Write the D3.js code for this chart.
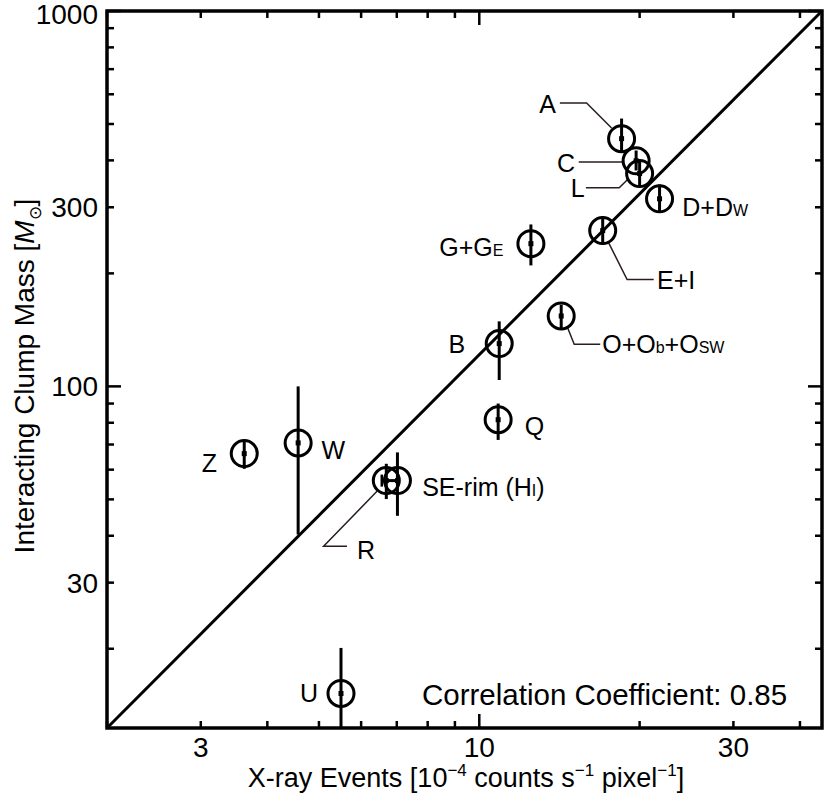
<!DOCTYPE html>
<html lang="en">
  <head>
    <meta charset="UTF-8" />
    <title>Interacting Clump Mass vs X-ray Events</title>
    <script src="https://d3js.org/d3.v7.min.js"></script>
    <style>
      body {
        margin: 0;
        background: white;
      }
      svg text {
        font-family: "Liberation Sans", Arial, Helvetica, sans-serif;
        fill: black;
      }
    </style>
  </head>
  <body>
    <svg id="chart" width="830" height="806"></svg>
    <script>
      // clump data
      const names = ["A", "C", "L", "D", "E", "G", "O", "B", "Q", "Z", "W", "R", "SE", "U"];
      const xray = [18.5, 19.7, 20.0, 21.8, 17.05, 12.5, 14.25, 10.9, 10.85, 3.62, 4.57, 6.69, 7.02, 5.5];
      const mass = [457, 399, 369, 316, 260, 240, 154, 130, 81.5, 66.2, 70.7, 56.1, 56.1, 15.2];
      const massLo = [420, 376, 340, 290, 238, 210, 143, 104, 72, 60.3, 40.3, 50.1, 45.2, 12.3];
      const massHi = [517, 425, 398, 345, 284, 270, 165, 149, 90, 72, 100, 62.2, 66.7, 20.1];
      const xrayLo = [null, null, null, null, null, null, null, null, null, null, null, null, 6.56, null];
      const xrayHi = [null, null, null, null, null, null, null, null, null, null, null, null, 7.02, null];

      const xTickLabels = [3, 10, 30];
      const yTickLabels = [30, 100, 300, 1000];
      const xMinor = [2, 3, 4, 5, 6, 7, 8, 9, 20, 30, 40];
      const yMinor = [20, 30, 40, 50, 60, 70, 80, 90, 200, 300, 400, 500, 600, 700, 800, 900];
      const xMajor = [10];
      const yMajor = [100, 1000];
      const fitLine = [[2, 12.3], [44, 1000]];
      const corrText = "Correlation Coefficient: 0.85";

      // label placement (pixel offsets from the point centre)
      const labels = {
        A: { parts: [["A"]], dx: -74, dy: -35, anchor: "middle", leader: [[-10, -10.7], [-35, -35.7], [-61.7, -35.7]] },
        C: { parts: [["C"]], dx: -70, dy: 2, anchor: "middle", leader: [[-12.7, 1.3], [-57.4, 1.3]] },
        L: { parts: [["L"]], dx: -62, dy: 14.3, anchor: "middle", leader: [[-12, 6], [-20.4, 14.3], [-53.7, 14.3]] },
        D: { parts: [["D+D"], ["W", true]], dx: 22.7, dy: 8.3, anchor: "start" },
        E: { parts: [["E+I"]], dx: 54.4, dy: 49, anchor: "start", leader: [[6, 12.3], [24.4, 49], [51, 49]] },
        G: { parts: [["G+G"], ["E", true]], dx: -27.4, dy: 3, anchor: "end" },
        O: { parts: [["O+O"], ["b", true], ["+O"], ["SW", true]], dx: 41, dy: 28.3, anchor: "start", leader: [[5.7, 10], [13, 28.3], [39, 28.3]] },
        B: { parts: [["B"]], dx: -34, dy: 0, anchor: "end" },
        Q: { parts: [["Q"]], dx: 26.7, dy: 6.7, anchor: "start" },
        Z: { parts: [["Z"]], dx: -27.3, dy: 9.3, anchor: "end" },
        W: { parts: [["W"]], dx: 23.4, dy: 6.7, anchor: "start" },
        R: { parts: [["R"]], dx: -29.3, dy: 69, anchor: "start", leader: [[-9.3, 10.7], [-62.7, 65.7], [-39.3, 65.7]] },
        SE: { parts: [["SE-rim (H"], ["I", true], [")"]], dx: 24.7, dy: 6.3, anchor: "start" },
        U: { parts: [["U"]], dx: -32, dy: 0, anchor: "middle" },
      };

      const margin = { top: 11, right: 8, bottom: 78, left: 107 };
      const width = 830 - margin.left - margin.right;
      const height = 806 - margin.top - margin.bottom;

      const svg = d3.select("#chart");
      const g = svg.append("g").attr("transform", `translate(${margin.left},${margin.top})`);

      const x = d3.scaleLog().domain([2, 44]).range([0, width]);
      const y = d3.scaleLog().domain([12.3, 1000]).range([height, 0]);

      const data = names.map((n, i) => ({
        name: n,
        x: xray[i],
        y: mass[i],
        lo: massLo[i],
        hi: massHi[i],
        xlo: xrayLo[i],
        xhi: xrayHi[i],
      }));

      // ticks, inward on all four sides
      const ticks = g.append("g").attr("stroke", "black").attr("stroke-width", 2.5);
      [
        [xMinor, 7],
        [xMajor, 14],
      ].forEach(([vals, len]) => {
        vals.forEach((v) => {
          ticks.append("line").attr("x1", x(v)).attr("x2", x(v)).attr("y1", height).attr("y2", height - len);
          ticks.append("line").attr("x1", x(v)).attr("x2", x(v)).attr("y1", 0).attr("y2", len);
        });
      });
      [
        [yMinor, 7],
        [yMajor, 14],
      ].forEach(([vals, len]) => {
        vals.forEach((v) => {
          ticks.append("line").attr("y1", y(v)).attr("y2", y(v)).attr("x1", 0).attr("x2", len);
          ticks.append("line").attr("y1", y(v)).attr("y2", y(v)).attr("x1", width).attr("x2", width - len);
        });
      });

      // tick labels
      g.selectAll(".xlab")
        .data(xTickLabels)
        .enter()
        .append("text")
        .attr("x", (d) => x(d))
        .attr("y", height + 29)
        .attr("text-anchor", "middle")
        .style("font-size", "28px")
        .text((d) => d);

      g.selectAll(".ylab")
        .data(yTickLabels)
        .enter()
        .append("text")
        .attr("x", -9)
        .attr("y", (d) => y(d))
        .attr("dy", (d) => (d === 1000 ? "0.46em" : "0.36em"))
        .attr("text-anchor", "end")
        .style("font-size", "28px")
        .text((d) => d);

      // fit line
      g.append("path")
        .datum(fitLine)
        .attr("fill", "none")
        .attr("stroke", "black")
        .attr("stroke-width", 3)
        .attr("d", d3.line().x((d) => x(d[0])).y((d) => y(d[1])));

      // leader lines
      data.forEach((d) => {
        const lab = labels[d.name];
        if (!lab.leader) return;
        const cx = x(d.x), cy = y(d.y);
        g.append("polyline")
          .attr("points", lab.leader.map((p) => [cx + p[0], cy + p[1]].join(",")).join(" "))
          .attr("fill", "none")
          .attr("stroke", "#2b1d1d")
          .attr("stroke-width", 1.5);
      });

      // points: circle + error bars
      const pts = g.selectAll(".pt").data(data).enter().append("g");

      pts.append("circle")
        .attr("cx", (d) => x(d.x))
        .attr("cy", (d) => y(d.y))
        .attr("r", 13)
        .attr("fill", "none")
        .attr("stroke", "black")
        .attr("stroke-width", 3);

      pts.append("line")
        .attr("x1", (d) => x(d.x))
        .attr("x2", (d) => x(d.x))
        .attr("y1", (d) => y(d.lo))
        .attr("y2", (d) => y(d.hi))
        .attr("stroke", "black")
        .attr("stroke-width", 3);

      pts.append("rect")
        .attr("x", (d) => x(d.x) - 2.5)
        .attr("y", (d) => y(d.y) - 2.5)
        .attr("width", 5)
        .attr("height", 5)
        .attr("fill", "black");

      pts.filter((d) => d.xlo != null).each(function (d) {
        const sel = d3.select(this);
        sel.append("line")
          .attr("x1", x(d.xlo)).attr("x2", x(d.xhi))
          .attr("y1", y(d.y)).attr("y2", y(d.y))
          .attr("stroke", "black").attr("stroke-width", 3);
        sel.append("line")
          .attr("x1", x(d.xlo)).attr("x2", x(d.xlo))
          .attr("y1", y(d.y) - 6).attr("y2", y(d.y) + 6)
          .attr("stroke", "black").attr("stroke-width", 2.5);
      });

      // point labels
      data.forEach((d) => {
        const lab = labels[d.name];
        const t = g.append("text")
          .attr("x", x(d.x) + lab.dx)
          .attr("y", y(d.y) + lab.dy)
          .attr("dy", "0.36em")
          .attr("text-anchor", lab.anchor)
          .style("font-size", "25px");
        lab.parts.forEach(([s, small]) => {
          t.append("tspan").style("font-size", small ? "16px" : null).text(s);
        });
      });

      // correlation note
      g.append("text")
        .attr("x", 422 - margin.left)
        .attr("y", 694 - margin.top)
        .attr("dy", "0.36em")
        .style("font-size", "29.5px")
        .text(corrText);

      // frame
      g.append("rect")
        .attr("width", width)
        .attr("height", height)
        .attr("fill", "none")
        .attr("stroke", "black")
        .attr("stroke-width", 3.5);

      // axis titles
      const xt = svg.append("text")
        .attr("x", 466)
        .attr("y", 787)
        .attr("text-anchor", "middle")
        .style("font-size", "27px");
      xt.append("tspan").text("X-ray Events [10");
      xt.append("tspan").attr("dy", -11).style("font-size", "17px").text("\u22124");
      xt.append("tspan").attr("dy", 11).text(" counts s");
      xt.append("tspan").attr("dy", -11).style("font-size", "17px").text("\u22121");
      xt.append("tspan").attr("dy", 11).text(" pixel");
      xt.append("tspan").attr("dy", -11).style("font-size", "17px").text("\u22121");
      xt.append("tspan").attr("dy", 11).text("]");

      const yt = svg.append("text")
        .attr("transform", "translate(34,376) rotate(-90)")
        .attr("text-anchor", "middle")
        .style("font-size", "28px");
      yt.append("tspan").text("Interacting Clump Mass [");
      yt.append("tspan").style("font-style", "italic").text("M");
      yt.append("tspan").attr("dy", 7).style("font-size", "17px").text("\u2299");
      yt.append("tspan").attr("dy", -7).text("]");
    </script>
  </body>
</html>
